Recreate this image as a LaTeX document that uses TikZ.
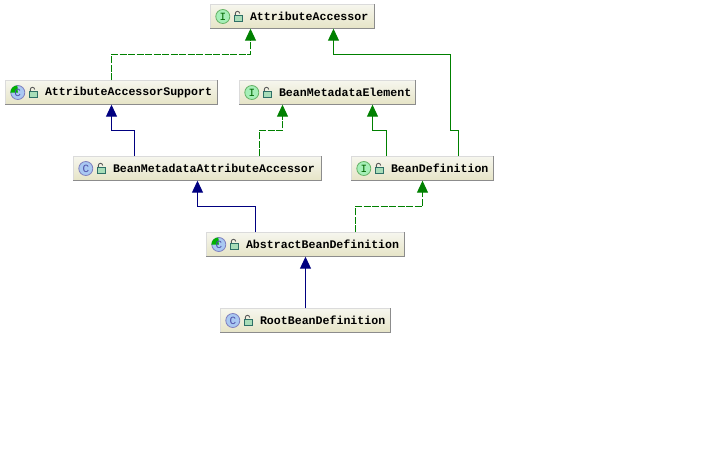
\documentclass[tikz,border=0pt]{standalone}
\usepackage{fontspec}
\setmonofont{Liberation Mono}
\usetikzlibrary{arrows.meta}
\definecolor{implgreen}{HTML}{008000}
\definecolor{extblue}{HTML}{000080}
\definecolor{boxtop}{HTML}{F6F6EE}
\definecolor{boxbottom}{HTML}{E6E4C6}
\definecolor{ifacefill}{HTML}{A6EFB8}
\definecolor{classfill}{HTML}{A9C8F2}
\definecolor{lockline}{HTML}{2E6F66}
\definecolor{lockfill}{HTML}{A8DDB8}
\tikzset{
  typebox/.style={rectangle,inner sep=0pt,minimum height=24pt,top color=boxtop,bottom color=boxbottom,draw=none},
  typename/.style={inner sep=0pt,anchor=west,font=\ttfamily\bfseries\fontsize{11.6}{12}\selectfont,text=black},
  typeicon/.style={circle,line width=.8pt,minimum size=14pt,inner sep=0pt,font=\ttfamily\fontsize{11}{11}\selectfont},
  extends/.style={draw=extblue,line width=1pt,-{Triangle[length=12pt,width=11pt,fill=extblue]}},
  implements/.style={draw=implgreen,line width=1pt,dash pattern=on 7pt off 1.5pt,-{Triangle[length=12pt,width=11pt,fill=implgreen]}}
}
% #1 node name, #2 left, #3 right, #4 middle y, #5 icon, #6 text
\newcommand{\typenode}[6]{
  \node[typebox,minimum width=#3pt-#2pt] (#1) at ({(#2+#3)/2},#4) {};
  \draw[color=black!14,line width=1pt] (#1.south west) -- (#1.north west) -- (#1.north east);
  \draw[color=black!45,line width=1pt] (#1.north east) -- (#1.south east) -- (#1.south west);
  #5{#1}
  \draw[draw=black!65,line width=.9pt] ([xshift=25pt,yshift=1pt]#1.west) -- ++(0,-2) arc[start angle=180,end angle=0,radius=2.2pt];
  \draw[draw=lockline,fill=lockfill,line width=.9pt] ([xshift=24.5pt,yshift=1pt]#1.west) rectangle ++(7.5,6);
  \node[typename] (#1name) at ([xshift=39.5pt]#1.west) {#6};
}
\newcommand{\ifaceicon}[1]{
  \node[typeicon,draw=implgreen!60,fill=ifacefill,text=implgreen!80!black] (#1icon) at ([xshift=12.5pt]#1.west) {I};
}
\newcommand{\classicon}[1]{
  \node[typeicon,draw=extblue!50,fill=classfill,text=extblue!70] (#1icon) at ([xshift=12.5pt]#1.west) {C};
}
\newcommand{\abstracticon}[1]{
  \node[typeicon,draw=extblue!50,fill=classfill] (#1icon) at ([xshift=12.5pt]#1.west) {};
  \fill[green!70!black] (#1icon.center) -- (#1icon.west) arc[start angle=180,end angle=90,radius=7pt] -- cycle;
  \node[inner sep=0pt,font=\ttfamily\fontsize{11}{11}\selectfont,text=extblue!70] at (#1icon) {C};
}
\begin{document}
\begin{tikzpicture}[x=1pt,y=-1pt]
\useasboundingbox[fill=white] (0,0) rectangle (720,450);
\typenode{accessor}{210.5}{374.5}{16.5}{\ifaceicon}{AttributeAccessor}
\typenode{support}{5.5}{217.5}{92.5}{\abstracticon}{AttributeAccessorSupport}
\typenode{element}{239.5}{415.5}{92.5}{\ifaceicon}{BeanMetadataElement}
\typenode{metaaccessor}{73.5}{321.5}{168.5}{\classicon}{BeanMetadataAttributeAccessor}
\typenode{definition}{351.5}{493.5}{168.5}{\ifaceicon}{BeanDefinition}
\typenode{abstractdef}{206.5}{404.5}{244.5}{\abstracticon}{AbstractBeanDefinition}
\typenode{rootdef}{220.5}{390.5}{320.5}{\classicon}{RootBeanDefinition}
\draw[implements] (support.north) -- ++(0,-26) -| ([xshift=-42pt]accessor.south);
\draw[extends] ([xshift=-63pt]metaaccessor.north) -- ++(0,-26) -| (support.south);
\draw[implements] ([xshift=62pt]metaaccessor.north) -- ++(0,-26) -| ([xshift=-45pt]element.south);
\draw[implements,solid] ([xshift=-36pt]definition.north) -- ++(0,-26) -| ([xshift=45pt]element.south);
\draw[implements,solid] ([xshift=36pt]definition.north) -- ++(0,-26) -- ++(-8,0) -- ++(0,-76) -| ([xshift=41pt]accessor.south);
\draw[extends] ([xshift=-50pt]abstractdef.north) -- ++(0,-26) -| (metaaccessor.south);
\draw[implements] ([xshift=50pt]abstractdef.north) -- ++(0,-26) -| (definition.south);
\draw[extends] (rootdef.north) -- (abstractdef.south);
\end{tikzpicture}
\end{document}
